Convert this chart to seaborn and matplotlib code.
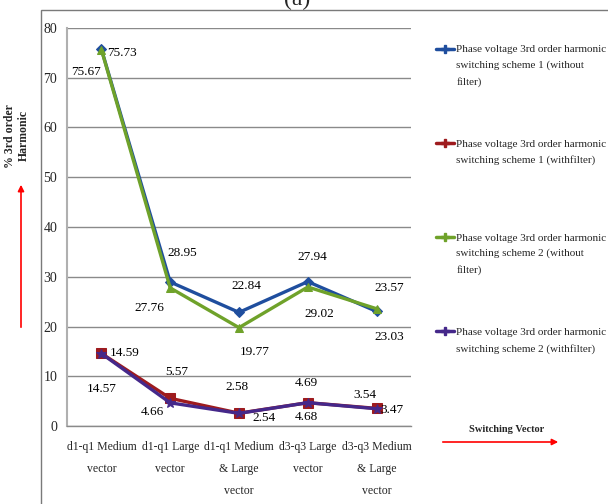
import numpy as np
import pandas as pd
import matplotlib
matplotlib.use("Agg")
import matplotlib.pyplot as plt
import seaborn as sns
from matplotlib.lines import Line2D
from matplotlib.patches import Rectangle, FancyArrowPatch
from matplotlib.legend_handler import HandlerLine2D

sns.set_style("white")
plt.rcParams['font.family'] = ['Liberation Serif', 'DejaVu Serif']

categories = ["d1-q1 Medium\nvector", "d1-q1 Large\nvector", "d1-q1 Medium\n& Large\nvector",
              "d3-q3 Large\nvector", "d3-q3 Medium\n& Large\nvector"]
series_names = [
    "Phase voltage 3rd order harmonic\nswitching scheme 1 (without\nfilter)",
    "Phase voltage 3rd order harmonic\nswitching scheme 1 (withfilter)\n",
    "Phase voltage 3rd order harmonic\nswitching scheme 2 (without\nfilter)",
    "Phase voltage 3rd order harmonic\nswitching scheme 2 (withfilter)\n",
]
s1_without = [75.73, 28.95, 22.84, 29.02, 23.03]
s1_with = [14.59, 5.57, 2.58, 4.69, 3.54]
s2_without = [75.67, 27.76, 19.77, 27.94, 23.57]
s2_with = [14.57, 4.66, 2.54, 4.68, 3.47]
values = [s1_without, s1_with, s2_without, s2_with]

colors = ["#1F4E9E", "#9E1B1E", "#6FA22A", "#45288A"]
markers = ["D", "s", "^", "*"]
msizes = [5, 7, 6, 7]

# label offsets (pixels) per series/point
label_offsets = [
    [(21, -4), (12, 29), (7, 26), (12, -32), (13, -26)],
    [(23, 0), (7, 26), (-2, 26), (-1, 20), (-12, 13)],
    [(-15, -22), (-21, -20), (16, -24), (5, 30), (13, 21)],
    [(0, -35), (-18, -9), (25, -5), (-1, -14), (15, -1)],
]

rows = []
for name, vals in zip(series_names, values):
    for i, v in enumerate(vals):
        rows.append({"series": name, "pos": i, "value": v})
df = pd.DataFrame(rows)

fig = plt.figure(figsize=(6.08, 5.04), dpi=100)
ax = fig.add_axes([67/608, 1-426/504, (411-67)/608, (426-28)/504])

for k, name in enumerate(series_names):
    sub = df[df["series"] == name]
    sns.lineplot(data=sub, x="pos", y="value", color=colors[k], marker=markers[k],
                 markersize=msizes[k], markeredgecolor=colors[k], linewidth=2.4,
                 sort=False, ax=ax, legend=False)

for k, vals in enumerate(values):
    for i, v in enumerate(vals):
        dx, dy = label_offsets[k][i]
        ax.annotate(f"{v:.2f}", xy=(i, v), xytext=(dx, dy), textcoords="offset pixels",
                    ha="center", va="center", fontsize=9.5, color="black")

ax.set_xlim(-0.5, 4.5)
ax.set_ylim(0, 80)
ax.set_yticks(np.arange(0, 81, 10))
ax.set_xticks(range(len(categories)))
ax.set_xticklabels(categories)
for tk in ax.xaxis.get_major_ticks():
    tk.label1.set_fontsize(8.5)
    tk.label1.set_linespacing(2.1)
    tk.label1.set_verticalalignment("top")
ax.tick_params(axis="y", labelsize=10, length=0, pad=7)
ax.tick_params(axis="x", length=0, pad=11)
ax.set_xlabel("")
ax.set_ylabel("")
ax.yaxis.grid(True, color="#8a8a8a", lw=1.0)
ax.set_axisbelow(True)
for s in ["top", "right"]:
    ax.spines[s].set_visible(False)
ax.spines["left"].set_color("#b0b0b0")
ax.spines["left"].set_linewidth(1.5)
ax.spines["bottom"].set_color("#8a8a8a")
ax.spines["bottom"].set_linewidth(1.0)


class TopHandler(HandlerLine2D):
    def __init__(self, shift, **kw):
        super().__init__(**kw)
        self.shift = shift

    def create_artists(self, legend, orig_handle, xdescent, ydescent, width, height, fontsize, trans):
        arts = super().create_artists(legend, orig_handle, xdescent, ydescent, width, height, fontsize, trans)
        for a in arts:
            a.set_ydata(np.asarray(a.get_ydata(), dtype=float) + self.shift)
        return arts


handles = [Line2D([0], [0], color=colors[k], marker="P", markersize=6, lw=2.5,
                  markeredgecolor=colors[k]) for k in range(4)]
leg = ax.legend(handles, series_names, loc="upper left",
                bbox_to_anchor=(432/608, 1-41/504), bbox_transform=fig.transFigure,
                frameon=False, prop={"family": "Liberation Serif", "size": 8},
                labelspacing=4.8, handlelength=1.6, handletextpad=0.2, borderaxespad=0,
                handler_map={h: TopHandler(12.2, numpoints=1) for h in handles})
for t in leg.get_texts():
    t.set_linespacing(1.84)

# outer frame
fig.add_artist(Rectangle((41/608, -0.05), 1.0, 1-10/504+0.05, transform=fig.transFigure,
                         fill=False, edgecolor="#7a7a7a", lw=1.0))
fig.text(297/608, 1-5/504, "(a)", ha="center", va="baseline", fontsize=17)

fig.text(16.5/608, 1-136/504, "% 3rd order\nHarmonic", rotation=90, ha="center", va="center",
         fontsize=8.5, fontweight="bold", multialignment="center")
fig.add_artist(FancyArrowPatch((21/608, 1-330/504), (21/608, 1-182/504),
               transform=fig.transFigure, arrowstyle="-|>", mutation_scale=9, color="red", lw=1.2))

fig.text(507/608, 1-429/504, "Switching Vector", ha="center", va="center",
         fontsize=7.5, fontweight="bold")
fig.add_artist(FancyArrowPatch((440/608, 1-442/504), (561/608, 1-442/504),
               transform=fig.transFigure, arrowstyle="-|>", mutation_scale=9, color="red", lw=1.2))

fig.savefig("out.png", dpi=100)
